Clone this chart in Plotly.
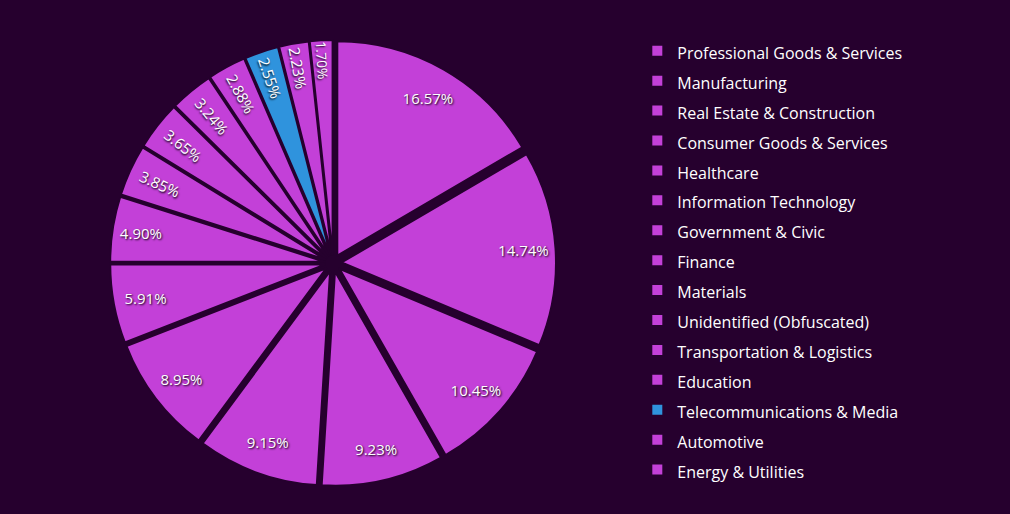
import plotly.graph_objects as go

# industry share (%), clockwise from 12 o'clock
industries = [
    "Professional Goods & Services", "Manufacturing", "Real Estate & Construction",
    "Consumer Goods & Services", "Healthcare", "Information Technology",
    "Government & Civic", "Finance", "Materials", "Unidentified (Obfuscated)",
    "Transportation & Logistics", "Education", "Telecommunications & Media",
    "Automotive", "Energy & Utilities",
]
share = [16.57, 14.74, 10.45, 9.23, 9.15, 8.95, 5.91, 4.90,
         3.85, 3.65, 3.24, 2.88, 2.55, 2.23, 1.70]

bg = "#26002e"
pink = "#c340d8"
blue = "#2f93dd"
colors = [blue if name.startswith("Telecom") else pink for name in industries]

# legend rows are taller than the text, so wrap the text in a smaller span
legend_labels = ['<span style="font-size:16px">%s</span>' % n for n in industries]

dom = dict(x=[0.109, 0.5505], y=[0.0545, 0.922])
txtfont = dict(family="Open Sans", size=15, color="white", shadow="1px 1px 2px #000000")

fig = go.Figure()
# the pie itself
fig.add_trace(go.Pie(
    labels=legend_labels,
    values=share,
    sort=False,
    direction="clockwise",
    rotation=0,
    pull=0.04,
    marker=dict(colors=colors, line=dict(color=bg, width=2)),
    textinfo="none",
    hovertemplate="%{label}: %{percent:.2%}<extra></extra>",
    domain=dom,
))
# same pie as a transparent ring, only to push the labels toward the rim
fig.add_trace(go.Pie(
    labels=legend_labels,
    values=share,
    sort=False,
    direction="clockwise",
    rotation=0,
    pull=0.04,
    hole=0.7,
    marker=dict(colors=["rgba(0,0,0,0)"] * len(share), line=dict(width=0)),
    texttemplate="%{percent:.2%}",
    textposition="inside",
    insidetextorientation="auto",
    textfont=txtfont,
    hoverinfo="skip",
    showlegend=False,
    domain=dom,
))

fig.update_layout(
    width=1010, height=514,
    paper_bgcolor=bg, plot_bgcolor=bg,
    margin=dict(l=0, r=0, t=0, b=0),
    font=dict(family="Open Sans", color="white"),
    legend=dict(
        x=0.631, y=0.94, xanchor="left", yanchor="top",
        font=dict(size=20.7, color="white"),
        itemwidth=30,
        bgcolor="rgba(0,0,0,0)",
    ),
)

fig.write_html("out.html", config={"displayModeBar": False},
               post_script="document.body.style.margin='0';")
